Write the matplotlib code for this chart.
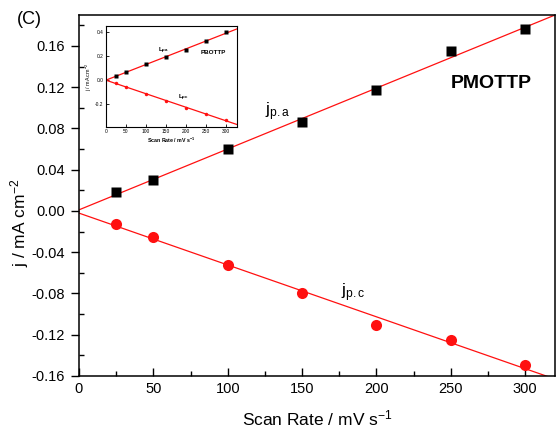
import numpy as np
import matplotlib
matplotlib.use('Agg')
import matplotlib.pyplot as plt
from matplotlib.ticker import MultipleLocator

plt.rcParams['font.family'] = ['Liberation Sans', 'DejaVu Sans']
plt.rcParams['mathtext.fontset'] = 'custom'
plt.rcParams['mathtext.rm'] = 'Liberation Sans'
plt.rcParams['mathtext.it'] = 'Liberation Sans'
plt.rcParams['axes.unicode_minus'] = False

# ---PMOTTP peak currents
scan_rate = [25, 50, 100, 150, 200, 250, 300]
j_pa = [0.018, 0.030, 0.060, 0.086, 0.117, 0.155, 0.176]
j_pc = [-0.013, -0.025, -0.052, -0.080, -0.111, -0.125, -0.149]

# ---PBOTTP peak currents (inset)
j_pa_b = [0.036, 0.069, 0.132, 0.190, 0.248, 0.328, 0.400]
j_pc_b = [-0.025, -0.055, -0.113, -0.171, -0.229, -0.281, -0.334]

red = '#ff1010'

fig = plt.figure(figsize=(5.6, 4.28), dpi=100)
ax = fig.add_axes([0.141, 0.1215, 0.850, 0.8435])

x = np.array(scan_rate, dtype=float)
xf = np.linspace(0, 330, 50)
for y, mk, ms in [(j_pa, 's', 7.5), (j_pc, 'o', 8)]:
    p = np.polyfit(x, y, 1)
    ax.plot(xf, np.polyval(p, xf), color=red, lw=0.9, zorder=2)
    ax.plot(x, y, mk, color='black' if mk == 's' else red, ms=ms, mec='none', zorder=3)

ax.set_xlim(0, 320)
ax.set_ylim(-0.16, 0.19)
ax.xaxis.set_major_locator(MultipleLocator(50))
ax.xaxis.set_minor_locator(MultipleLocator(25))
ax.yaxis.set_major_locator(MultipleLocator(0.04))
ax.yaxis.set_minor_locator(MultipleLocator(0.02))
ax.yaxis.set_major_formatter(plt.FuncFormatter(lambda v, pos: '%.2f' % v))
ax.tick_params(which='both', direction='in', width=1.0, labelsize=10.5, pad=4)
ax.tick_params(axis='y', which='major', direction='out')
ax.tick_params(which='major', length=6)
ax.tick_params(which='minor', length=3.5)
for s in ax.spines.values():
    s.set_linewidth(1.1)
ax.set_xlabel(r'Scan Rate / mV s$^{\mathregular{-1}}$', fontsize=12.5, labelpad=9)
ax.set_ylabel(r'j / mA cm$^{\mathregular{-2}}$', fontsize=12.5)
ax.yaxis.set_label_coords(-0.1, 0.424)

ax.text(277, 0.124, 'PMOTTP', fontsize=14, fontweight='bold', ha='center', va='center')
ax.text(125, 0.096, r'j$_{\mathregular{p.a}}$', fontsize=12.5, ha='left', va='center')
ax.text(176, -0.079, r'j$_{\mathregular{p.c}}$', fontsize=12.5, ha='left', va='center')
fig.text(0.03, 0.955, '(C)', fontsize=13, ha='left', va='center')

# ---Inset: PBOTTP
ins = fig.add_axes([0.189, 0.703, 0.234, 0.236])
for y, mk in [(j_pa_b, 's'), (j_pc_b, 'o')]:
    p = np.polyfit(x, y, 1)
    ins.plot(xf, np.polyval(p, xf), color=red, lw=0.9, zorder=2)
    ins.plot(x, y, mk, color='black' if mk == 's' else red, ms=2.5, mec='none', zorder=3)
ins.set_xlim(0, 327)
ins.set_ylim(-0.39, 0.45)
ins.xaxis.set_major_locator(MultipleLocator(50))
ins.yaxis.set_major_locator(MultipleLocator(0.2))
ins.yaxis.set_major_formatter(plt.FuncFormatter(lambda v, pos: '%.1f' % v))
ins.tick_params(direction='in', length=2, width=0.6, labelsize=3.5, pad=1.5)
for s in ins.spines.values():
    s.set_linewidth(0.8)
ins.set_xlabel(r'Scan Rate / mV s$^{\mathregular{-1}}$', fontsize=3.8, labelpad=1, fontweight='bold')
ins.set_ylabel(r'j / mA cm$^{\mathregular{-2}}$', fontsize=3.8, labelpad=1)
ins.text(130, 0.23, r'L$_{\mathregular{pa}}$', fontsize=4.5, fontweight='bold')
ins.text(180, -0.16, r'L$_{\mathregular{pc}}$', fontsize=4.5, fontweight='bold')
ins.text(268, 0.22, 'PBOTTP', fontsize=4.5, fontweight='bold', ha='center')

fig.savefig('out.png', dpi=100)
